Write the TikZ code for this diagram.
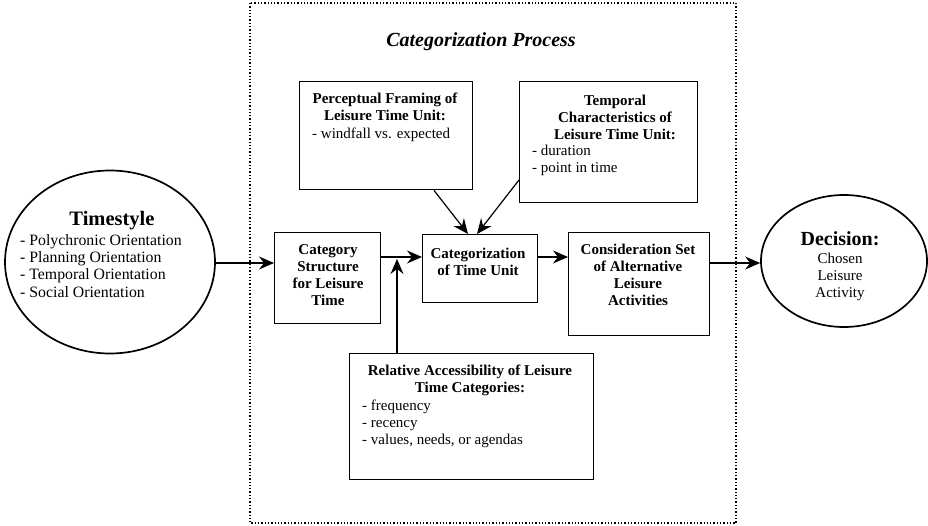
\documentclass[tikz,border=0pt]{standalone}
\usepackage{fontspec}
\setmainfont{Liberation Serif}
\usetikzlibrary{arrows.meta,shapes.geometric}
\tikzset{
  box/.style={draw, line width=1.4pt, inner sep=0pt},
  ell/.style={draw, ellipse, line width=1.7pt, inner sep=0pt},
  ttl/.style={inner sep=0pt, anchor=north, align=center, font=\fontsize{15}{17}\selectfont\bfseries},
  itm/.style={inner sep=0pt, anchor=north west, align=left, font=\fontsize{15}{17}\selectfont},
  arr/.style={line width=1.2pt, -{Stealth[length=15pt,width=13pt,inset=5pt]}},
}
\newcommand{\st}{\strut}
\begin{document}
\begin{tikzpicture}[x=1pt,y=-1pt]
\useasboundingbox (0,0) rectangle (928,526);
% frame
\draw[dotted, line width=1.3pt] (250,3) rectangle (736,523);
\node[anchor=base, inner sep=0pt, font=\fontsize{20}{24}\selectfont\bfseries\itshape] (proc) at (481,47) {Categorization Process};

% ellipses
\node[ell, minimum width=210pt, minimum height=183pt] (time) at (110,262) {};
\node[anchor=base, inner sep=0pt, font=\fontsize{20.5}{24}\selectfont\bfseries] (timet) at (112,226) {Timestyle};
\node[itm, font=\fontsize{15.8}{17.3}\selectfont] (timei) at (20,233) {\st- Polychronic Orientation\\- Planning Orientation\\- Temporal Orientation\\- Social Orientation};

\node[ell, minimum width=166pt, minimum height=132pt] (dec) at (844,261) {};
\node[anchor=base, inner sep=0pt, font=\fontsize{20}{24}\selectfont\bfseries] (dect) at (840,246) {Decision:};
\node[itm, anchor=north, align=center] (deci) at (840,251) {\st Chosen\\Leisure\\Activity};

% boxes
\node[box, anchor=north west, minimum width=173pt, minimum height=108pt] (perc) at (299,81) {};
\node[ttl] (perct) at (385,91) {\st Perceptual Framing of\\Leisure Time Unit:};
\node[itm] (perci) at (312,126) {\st- windfall vs. expected};

\node[box, anchor=north west, minimum width=178pt, minimum height=121pt] (temp) at (519,81) {};
\node[ttl] (tempt) at (615,93) {\st Temporal\\Characteristics of\\Leisure Time Unit:};
\node[itm] (tempi) at (532,143) {\st- duration\\- point in time};

\node[box, anchor=north west, minimum width=106pt, minimum height=91pt] (cat) at (274,232) {};
\node[ttl] (catt) at (328,242) {\st Category\\Structure\\for Leisure\\Time};

\node[box, anchor=north west, minimum width=115pt, minimum height=68pt] (catu) at (422,234) {};
\node[ttl] (catut) at (478,246) {\st Categorization\\of Time Unit};

\node[box, anchor=north west, minimum width=141pt, minimum height=103pt] (cons) at (568,232) {};
\node[ttl] (const) at (638,242) {\st Consideration Set\\of Alternative\\Leisure\\Activities};

\node[box, anchor=north west, minimum width=244pt, minimum height=126pt] (rel) at (349,353) {};
\node[ttl] (relt) at (470,363) {\st Relative Accessibility of Leisure\\Time Categories:};
\node[itm] (reli) at (362,398) {\st- frequency\\- recency\\- values, needs, or agendas};

% connectors
\coordinate (rtop) at (397,353);
\coordinate (rtip) at (397,259);
\draw[arr] (time.east |- 0,263) -- (cat.west |- 0,263);
\draw[arr] (cat.east |- 0,257) -- (catu.west |- 0,257);
\draw[arr] (rtop) -- (rtip);
\draw[arr] (perc.south -| 434,0) -- (468,234);
\draw[arr] (temp.west |- 0,180) -- (477,234);
\draw[arr] (catu.east |- 0,257) -- (cons.west |- 0,257);
\draw[arr] (cons.east |- 0,263) -- (dec.west |- 0,263);
\end{tikzpicture}
\end{document}
